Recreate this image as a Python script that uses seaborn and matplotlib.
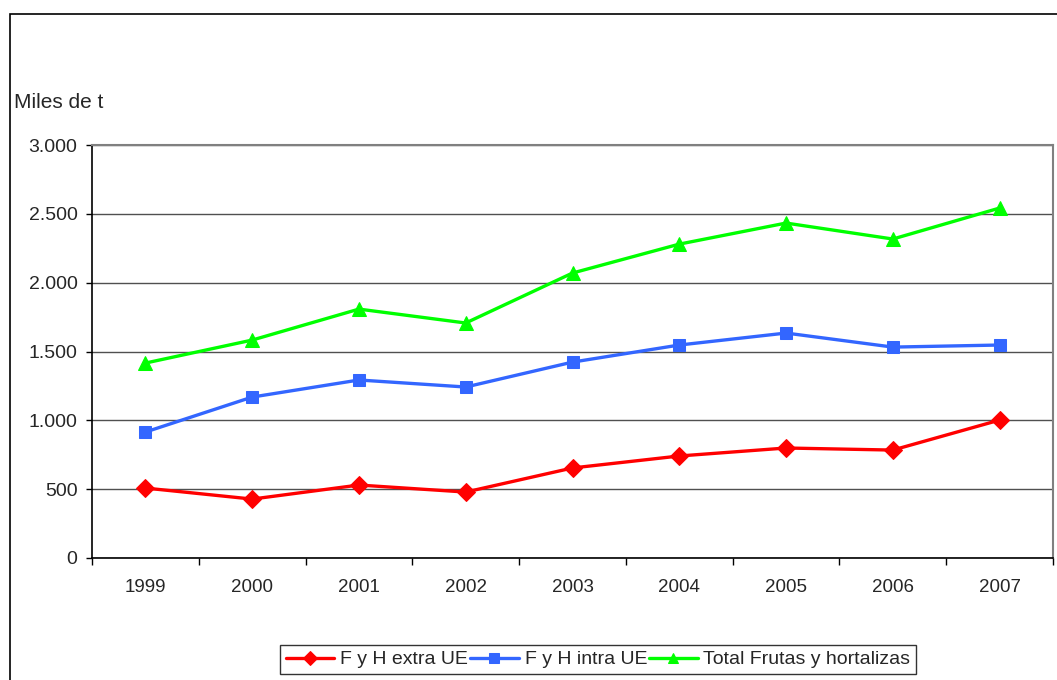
import pandas as pd
import numpy as np
import seaborn as sns
import matplotlib.pyplot as plt
from matplotlib.patches import Rectangle
from matplotlib.ticker import FuncFormatter, FixedLocator

# Datos (miles de t)
years = ['1999', '2000', '2001', '2002', '2003', '2004', '2005', '2006', '2007']
extra_ue = [508, 428, 530, 479, 654, 741, 799, 784, 1002]
intra_ue = [915, 1169, 1293, 1242, 1423, 1547, 1634, 1532, 1547]
total_fh = [1416, 1583, 1808, 1707, 2070, 2280, 2433, 2317, 2542]

names = ['F y H extra UE', 'F y H intra UE', 'Total Frutas y hortalizas']
colors = ['#FF0000', '#3366FF', '#00FF00']
markers = ['D', 's', '^']
msizes = [9.5, 8.5, 10]

sns.set_style("white")
plt.rcParams['font.family'] = ['Liberation Sans', 'DejaVu Sans']

fig = plt.figure(figsize=(10.57, 6.8), dpi=100)
ax = fig.add_axes([92 / 1057, 1 - 558 / 680, 961 / 1057, 413 / 680])

# marco exterior
fig.patches.append(Rectangle((10 / 1057, -0.2), 1.2, 1.2 - 14 / 680,
                             transform=fig.transFigure, fill=False,
                             edgecolor='black', linewidth=1.2))

x = np.arange(len(years))
for vals, name, c, m, ms in zip([extra_ue, intra_ue, total_fh], names, colors, markers, msizes):
    sns.lineplot(x=x, y=vals, ax=ax, color=c, marker=m, markersize=ms,
                 markeredgecolor=c, linewidth=2.4, label=name, legend=False)

ax.set_xlim(-0.5, len(years) - 0.5)
ax.set_ylim(0, 3000)
ax.set_yticks(np.arange(0, 3001, 500))
ax.yaxis.set_major_formatter(FuncFormatter(lambda v, p: f'{int(v):,}'.replace(',', '.')))
ax.grid(axis='y', color='#505050', linewidth=1)
ax.set_axisbelow(True)

# ticks entre categorías, etiquetas centradas
ax.xaxis.set_major_locator(FixedLocator(np.arange(-0.5, len(years), 1)))
ax.xaxis.set_minor_locator(FixedLocator(x))
ax.set_xticklabels([])
ax.set_xticklabels(years, minor=True)
ax.tick_params(axis='x', which='major', direction='out', length=5, width=1, color='black')
ax.tick_params(axis='x', which='minor', length=0, pad=15, labelsize=13.5)
ax.tick_params(axis='y', direction='out', length=4.5, width=1, color='black', pad=6, labelsize=14)
ax.tick_params(left=True, bottom=True)

for s in ['left', 'bottom']:
    ax.spines[s].set_color('black')
    ax.spines[s].set_linewidth(1.2)
for s in ['top', 'right']:
    ax.spines[s].set_color('#808080')
    ax.spines[s].set_linewidth(1.5)

fig.text(14 / 1057, 1 - 102 / 680, 'Miles de t', fontsize=15, va='center', ha='left')

handles, labels = ax.get_legend_handles_labels()
leg = fig.legend(handles, labels, loc='upper left', bbox_to_anchor=(280 / 1057, 1 - 645 / 680),
                 ncol=3, fontsize=14, frameon=True, fancybox=False, edgecolor='black',
                 handlelength=2.5, handletextpad=0.3, columnspacing=0.1, borderpad=0.3,
                 borderaxespad=0)
leg.get_frame().set_linewidth(1)
for h in leg.legend_handles:
    h.set_markersize(7)

fig.savefig('out.png', dpi=100)
